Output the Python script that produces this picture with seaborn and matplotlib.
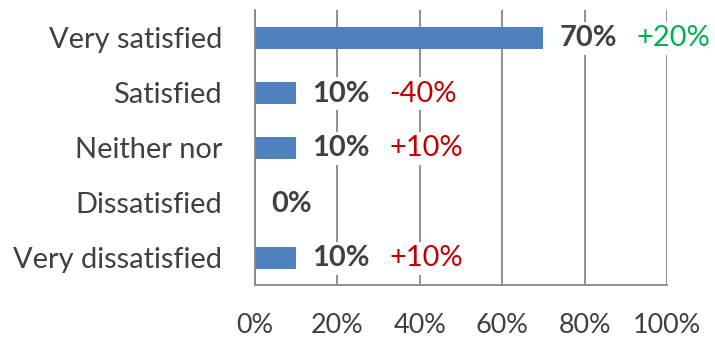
import matplotlib
matplotlib.use("Agg")
import matplotlib.pyplot as plt
import seaborn as sns
import pandas as pd
from matplotlib.ticker import FixedLocator

categories = ["Very satisfied", "Satisfied", "Neither nor", "Dissatisfied", "Very dissatisfied"]
values = [70, 10, 10, 0, 10]
changes = ["+20%", "-40%", "+10%", "", "+10%"]
change_colors = ["#00B050", "#C00000", "#C00000", "#C00000", "#C00000"]
xticks = [0, 20, 40, 60, 80, 100]

sns.set_style("white")
plt.rcParams['font.family'] = ['Lato', 'DejaVu Sans']

DPI = 72
fig = plt.figure(figsize=(715 / DPI, 339 / DPI), dpi=DPI)
ax = fig.add_axes([255 / 715, 1 - 285 / 339, (667 - 255) / 715, (285 - 10) / 339])

df = pd.DataFrame({"cat": categories, "val": values})
sns.barplot(data=df, x="val", y="cat", orient="h", color="#4F81BD", saturation=1,
            width=0.4, ax=ax, zorder=3, linewidth=0, edgecolor="none")

grid_c = "#868686"
ax.set_xlim(0, 100)
ax.set_ylim(len(categories) - 0.5, -0.5)
ax.set_xticks(xticks)
ax.set_xticklabels([f"{t}%" for t in xticks])
ax.xaxis.grid(True, color=grid_c, linewidth=1.8, zorder=0)
ax.set_axisbelow(True)
ax.set_xlabel("")
ax.set_ylabel("")

for s in ["top", "right"]:
    ax.spines[s].set_visible(False)
for s in ["left", "bottom"]:
    ax.spines[s].set_color(grid_c)
    ax.spines[s].set_linewidth(1.8)
    ax.spines[s].set_zorder(4)

ax.tick_params(axis="x", direction="inout", length=16, width=1.8, color=grid_c,
               labelsize=27, labelcolor="#404040", pad=20)
ax.tick_params(axis="y", which="major", length=0, labelsize=29, labelcolor="#404040", pad=33)
ax.yaxis.set_minor_locator(FixedLocator([i - 0.5 for i in range(len(categories) + 1)]))
ax.tick_params(axis="y", which="minor", direction="out", length=10, width=1.8, color=grid_c)

for i, (v, ch, cc) in enumerate(zip(values, changes, change_colors)):
    ax.annotate(f"{v}%", xy=(v, i), xytext=(16, -1), textcoords="offset points",
                ha="left", va="center", fontsize=29, fontweight="bold", color="#404040",
                bbox=dict(boxstyle="square,pad=0.12", fc="white", ec="none"), zorder=5)
    if ch:
        ax.annotate(ch, xy=(v, i), xytext=(16 + 77, -1), textcoords="offset points",
                    ha="left", va="center", fontsize=29, color=cc,
                    bbox=dict(boxstyle="square,pad=0.12", fc="white", ec="none"), zorder=5,
                    annotation_clip=False)

fig.savefig("out.png", dpi=DPI)
